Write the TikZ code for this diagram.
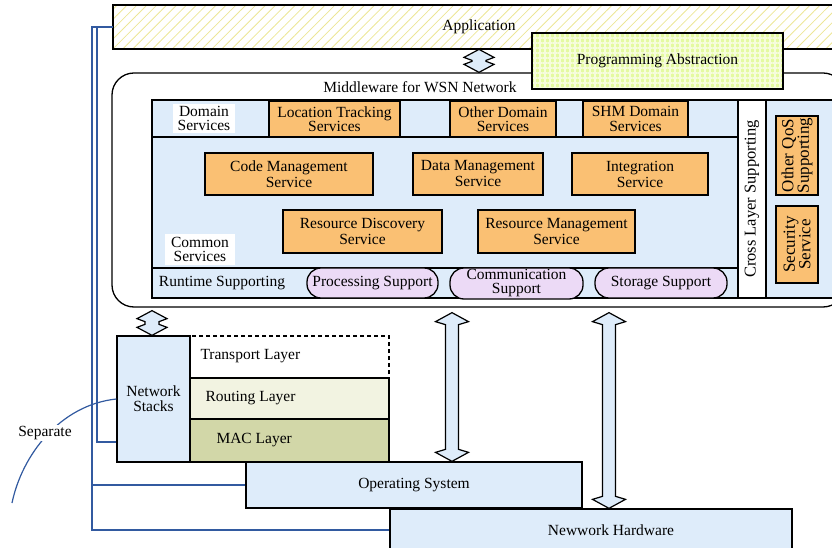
\documentclass[tikz,border=0pt]{standalone}
\usepackage{fontspec}
\setmainfont{Liberation Serif}
\usetikzlibrary{calc,patterns.meta}
\definecolor{lblue}{RGB}{222,236,250}
\definecolor{orng}{RGB}{250,192,115}
\definecolor{lav}{RGB}{236,218,246}
\definecolor{routc}{RGB}{242,243,225}
\definecolor{macc}{RGB}{210,215,168}
\definecolor{hatchc}{RGB}{236,230,150}
\definecolor{pagreen}{RGB}{228,250,160}
\definecolor{pagrid}{RGB}{246,252,220}
\definecolor{bline}{RGB}{50,90,160}
\newcommand\fatarrow[6]{%
\draw[fatarr] let \p1=(#1), \p2=(#2) in
 (\x1,\y1) -- (\x1+#4,\y1-#5) -- (\x1+#3,\y1-#5-#6) -- (\x1+#3,\y2+#5+#6)
 -- (\x1+#4,\y2+#5) -- (\x1,\y2) -- (\x1-#4,\y2+#5) -- (\x1-#3,\y2+#5+#6)
 -- (\x1-#3,\y1-#5-#6) -- (\x1-#4,\y1-#5) -- cycle;}
\begin{document}
\begin{tikzpicture}[x=1bp,y=-1bp,
  font={\fontsize{15.5bp}{16bp}\selectfont},
  bx/.style={draw, line width=1.3bp, inner sep=0pt, align=center},
  ob/.style={bx, fill=orng},
  pill/.style={bx, fill=lav, rounded corners=14bp},
  dfont/.style={font={\fontsize{15.5bp}{14.5bp}\selectfont}},
  lbl/.style={fill=white, inner sep=0pt, align=center, font={\fontsize{15.5bp}{14.5bp}\selectfont}},
  bl/.style={draw=bline, line width=1.2bp},
  fatarr/.style={draw, line width=1.2bp, fill=lblue, line join=miter},
  rtext/.style={rotate=90, align=center, inner sep=0pt, font={\fontsize{17bp}{15.5bp}\selectfont}}]
\useasboundingbox (0,0) rectangle (832,548);
\clip (0,0) rectangle (832,548);
% Application
\node[bx, pattern={Lines[angle=45,distance=7bp,line width=0.8bp]}, pattern color=hatchc,
  minimum width=732bp, minimum height=44bp] (app) at (479,27) {Application};
% Middleware
\node[bx, fill=white, rounded corners=22bp, minimum width=733bp, minimum height=234bp] (mw) at (478.5,190) {};
\node (mwl) at (420,87) {Middleware for WSN Network};
% Programming abstraction
\node[bx, preaction={fill=pagreen}, pattern={Hatch[angle=0,distance=5bp,line width=1.2bp]}, pattern color=pagrid,
  minimum width=251bp, minimum height=56bp] (pa) at (657.5,61) {Programming Abstraction};
% inner blocks
\node[bx, fill=lblue, minimum width=588bp, minimum height=37bp] (dom) at (446,118.5) {};
\node[bx, fill=lblue, minimum width=588bp, minimum height=131bp] (com) at (446,202.5) {};
\node[bx, fill=lblue, minimum width=588bp, minimum height=30bp] (rt) at (446,283) {};
\node[bx, fill=white, minimum width=28bp, minimum height=198bp] (cl) at (752,199) {};
\node[bx, fill=lblue, minimum width=79bp, minimum height=198bp] (clb) at (805.5,199) {};
\node[rtext, font={\fontsize{16.5bp}{15bp}\selectfont}] (cll) at (cl) {Cross Layer Supporting};
% domain services
\node[lbl, minimum width=62bp, minimum height=29bp] (dsl) at (204,118.5) {Domain\\Services};
\node[ob, dfont, minimum width=131bp, minimum height=36bp] (loc) at (334.5,119) {Location Tracking\\Services};
\node[ob, dfont, minimum width=106bp, minimum height=36bp] (oth) at (503,119) {Other Domain\\Services};
\node[ob, dfont, minimum width=105bp, minimum height=36bp] (shm) at (635.5,119) {SHM Domain\\Services};
% common services
\node[ob, minimum width=168bp, minimum height=42bp] (code) at (289,174) {Code Management\\Service};
\node[ob, minimum width=130bp, minimum height=42bp] (data) at (478,174) {Data Management\\Service};
\node[ob, minimum width=136bp, minimum height=42bp] (integ) at (640,174) {Integration\\Service};
\node[ob, minimum width=159bp, minimum height=43bp] (rdisc) at (362.5,231.5) {Resource Discovery\\Service};
\node[ob, minimum width=157bp, minimum height=43bp] (rmgmt) at (556.5,231.5) {Resource Management\\Service};
\node[lbl, minimum width=70bp, minimum height=31bp] (csl) at (200,249.5) {Common\\Services};
% runtime
\node (rtl) at (222,283) {Runtime Supporting};
\node[pill, minimum width=131bp, minimum height=30bp] (proc) at (372.5,283) {Processing Support};
\node[pill, font={\fontsize{15.5bp}{14bp}\selectfont}, minimum width=133bp, minimum height=31bp] (comm) at (516.5,283.5) {Communication\\Support};
\node[pill, minimum width=132bp, minimum height=30bp] (stor) at (661,283) {Storage Support};
% cross layer
\node[ob, minimum width=42bp, minimum height=79bp] (qos) at (797,155.5) {};
\node[rtext] (qosl) at (qos) {Other QoS\\Supporting};
\node[ob, minimum width=42bp, minimum height=77bp] (sec) at (797,244.5) {};
\node[rtext] (secl) at (sec) {Security\\Service};
% lower stack
\node[bx, dash pattern=on 4bp off 3bp, fill=white, minimum width=199bp, minimum height=42bp] (tl) at (289.5,357) {};
\node[bx, fill=routc, minimum width=199bp, minimum height=41bp] (rl) at (289.5,398.5) {};
\node[bx, fill=macc, minimum width=199bp, minimum height=43bp] (ml) at (289.5,440.5) {};
\node[anchor=west] (tlt) at (197,356) {Transport Layer};
\node[anchor=west] (rlt) at (202,398) {Routing Layer};
\node[anchor=west] (mlt) at (213,440) {MAC Layer};
\node[bx, fill=lblue, minimum width=73bp, minimum height=126bp, font={\fontsize{15.5bp}{15bp}\selectfont}] (ns) at (153.5,399) {Network\\Stacks};
\node[bx, fill=lblue, minimum width=336bp, minimum height=46bp] (os) at (414,485) {Operating System};
\node[bx, fill=lblue, minimum width=402bp, minimum height=42bp] (hw) at (591,530) {};
\node (hwl) at (611,530) {Newwork Hardware};
% coordinates
\coordinate (xL) at (92,0);
\coordinate (xL2) at (97,0);
\coordinate (xs1) at (479,0);
\coordinate (xs2) at (152,0);
\coordinate (xa) at (452,0);
\coordinate (xb) at (609,0);
\coordinate (sj) at ($(ns.west)+(0,43)$);
\coordinate (sepS) at (12,503);
% blue connectors
\draw[bl] (app.west) -- (app.west -| xL) -- (hw.west -| xL) -- (hw.west);
\draw[bl] (os.west) -- (os.west -| xL);
\draw[bl] (app.west -| xL2) -- (sj -| xL2) -- (sj);
\draw[bl] (sepS) .. controls (22,455) and (60,405) .. (ns.west);
\node[fill=white, inner sep=1bp] (sep) at (45,433) {Separate};
% fat arrows
\fatarrow{app.south -| xs1}{mw.north -| xs1}{7bp}{15bp}{8bp}{3bp}
\fatarrow{$(mw.south -| xs2)+(0,3)$}{ns.north -| xs2}{7bp}{15bp}{8bp}{3bp}
\fatarrow{$(mw.south -| xa)+(0,5)$}{os.north -| xa}{6.5bp}{16.5bp}{9bp}{3bp}
\fatarrow{$(mw.south -| xb)+(0,5)$}{hw.north -| xb}{6.5bp}{16.5bp}{9bp}{3bp}
\end{tikzpicture}
\end{document}
